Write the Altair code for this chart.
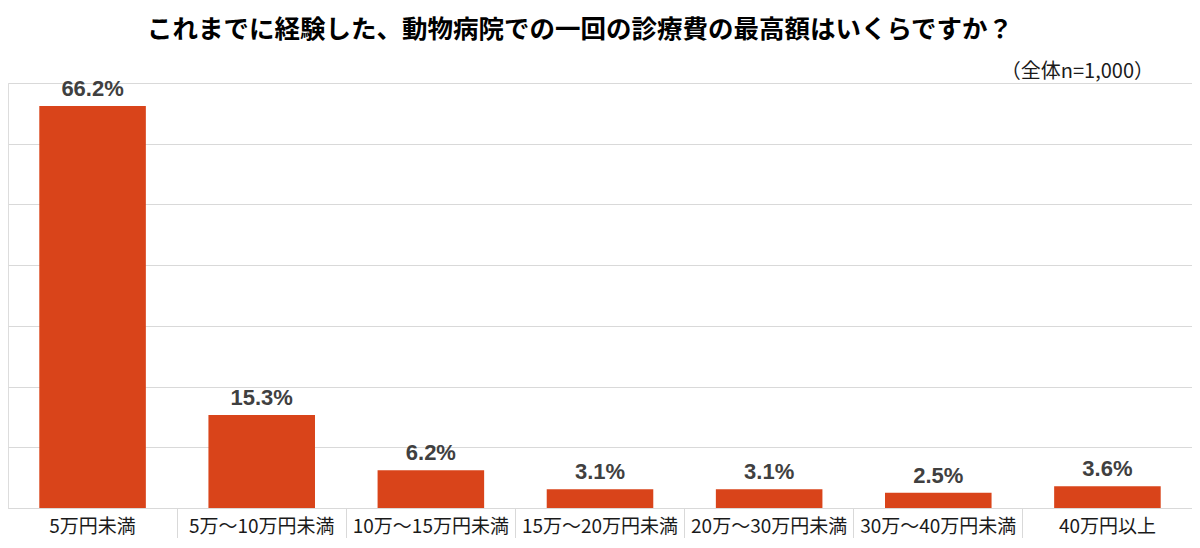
import altair as alt
import pandas as pd

categories = ["5万円未満", "5万～10万円未満", "10万～15万円未満", "15万～20万円未満",
              "20万～30万円未満", "30万～40万円未満", "40万円以上"]
values = [66.2, 15.3, 6.2, 3.1, 3.1, 2.5, 3.6]
title_text = "これまでに経験した、動物病院での一回の診療費の最高額はいくらですか？"
note_text = "（全体n=1,000）"

df = pd.DataFrame({"cat": categories, "pct": values})

W, H = 1184, 425
JP = "Noto Sans CJK JP"
BAR = "#D9441A"
GRID = "#D9D9D9"

base = alt.Chart(df).transform_calculate(
    lbl="format(datum.pct, '.1f') + '%'"
)

x_enc = alt.X(
    "cat:N", sort=categories, title=None,
    scale=alt.Scale(paddingInner=0, paddingOuter=0),
    axis=alt.Axis(
        labelAngle=0, labelFont=JP, labelFontSize=19, labelColor="#1a1a1a",
        labelBaseline="middle", labelPadding=-22,
        tickSize=40, tickColor={"condition": {"test": "datum.value == '5万円未満'", "value": "transparent"}, "value": GRID},
        bandPosition=0, domainColor=GRID, grid=False,
    ),
)
y_enc = alt.Y(
    "pct:Q", title=None,
    scale=alt.Scale(domain=[0, 70], nice=False),
    axis=alt.Axis(values=[0, 10, 20, 30, 40, 50, 60, 70], labels=False, ticks=False,
                  domain=False, grid=True, gridColor=GRID),
)

bars = base.mark_bar(color=BAR, width={"band": 0.63}).encode(x=x_enc, y=y_enc)

labels = base.mark_text(
    font="Liberation Sans", fontWeight="bold", fontSize=22, color="#404040",
    baseline="alphabetic", dy=-10,
).encode(x=alt.X("cat:N", sort=categories), y="pct:Q", text="lbl:N")

note = alt.Chart(pd.DataFrame({"t": [note_text]})).mark_text(
    font=JP, fontSize=20, color="#1a1a1a", align="right", baseline="middle"
).encode(text="t:N", x=alt.value(W - 38), y=alt.value(-11))

chart = alt.layer(bars, labels, note).properties(
    width=W, height=H,
    autosize=alt.AutoSizeParams(type="none"),
    padding={"left": 0, "right": 0, "top": 75, "bottom": 30},
    title=alt.TitleParams(
        text=title_text, font=JP, fontSize=25.5, fontWeight="bold", color="#000000",
        anchor="middle", baseline="alphabetic", offset=24, dx=-20, dy=25,
    ),
).configure_view(stroke=None).configure(background="#ffffff")

chart.save("out.html", embed_options={"renderer": "svg", "actions": False})
